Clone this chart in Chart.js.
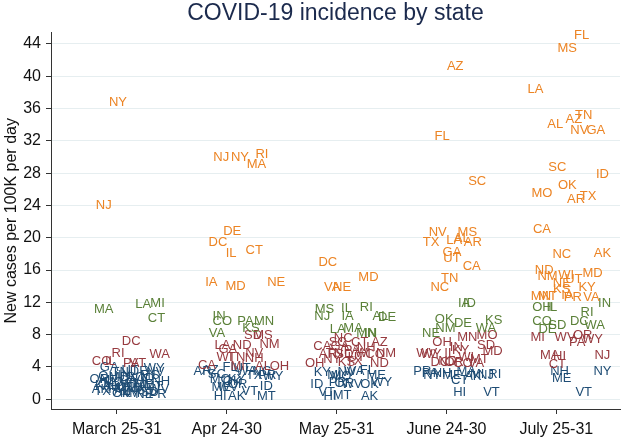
<!DOCTYPE html>
<html>
<head>
<meta charset="utf-8">
<title>COVID-19 incidence by state</title>
<script src="https://cdn.jsdelivr.net/npm/chart.js@4.4.1/dist/chart.umd.min.js"></script>
<style>
  html, body { margin: 0; padding: 0; background: #fff; }
</style>
</head>
<body>
<canvas id="chart" width="622" height="439"></canvas>
<script>
// Week labels on the x axis (one column of states per week)
const periods = ['March 25-31', 'Apr 24-30', 'May 25-31', 'June 24-30', 'July 25-31'];
const yTicks = [0, 4, 8, 12, 16, 20, 24, 28, 32, 36, 40, 44];

// Colour bands: <4 blue, 4-8 red, 8-12 green, >=12 orange
const cutoffs = [4, 8, 12];
const bandColors = ['#1f4d75', '#973a3f', '#5a8038', '#ec8424'];

// March 25-31 (x = jittered column position)
const marStates = ['NY','NJ','MA','LA','MI','CT','DC','RI','CO','IL','PA','VT','WA',
  'AL','AK','AZ','AR','CA','DE','FL','GA','HI','ID','IN','IA','KS','KY','ME','MD','MN','MS','MO','MT',
  'NE','NV','NH','NM','NC','ND','OH','OK','OR','SC','SD','TN','TX','UT','VA','WV','WI','WY','PR'];
const marX = [1.01,0.88,0.88,1.24,1.37,1.36,1.13,1.01,0.86,0.94,1.13,1.19,1.39,
  0.90,0.85,1.05,0.95,1.10,1.20,1.15,0.93,0.98,1.28,1.07,1.22,1.18,0.88,1.25,1.02,1.08,1.30,0.97,1.33,
  1.25,1.35,1.40,1.12,1.00,1.15,0.92,1.04,0.84,1.17,1.30,1.03,0.87,1.12,1.21,1.38,1.10,1.34,1.37];
const marCases = [36.7,24.0,11.1,11.7,11.9,10.0,7.2,5.7,4.7,4.7,4.5,4.5,5.5,
  2.3,1.2,1.0,1.6,2.4,3.4,2.0,3.9,1.2,2.6,2.9,1.5,1.1,1.7,1.9,2.7,1.4,2.9,2.1,1.6,
  0.6,3.3,2.2,0.7,1.5,1.3,2.8,0.7,2.5,2.7,0.9,3.3,1.0,3.6,2.3,1.2,1.9,3.8,0.6];

// Apr 24-30
const aprStates = ['NJ','NY','RI','MA','DE','DC','IL','CT','IA','MD','NE',
  'IN','CO','PA','MN','VA','KS',
  'MS','SD','LA','ND','NM','GA','WI','TN','NV','NH','CA','AL','OH','MI',
  'AR','AZ','SC','MO','OK','ME','KY','FL','TX','PR','WA','UT','NC','WV','OR','WY','VT','ID','HI','AK','MT'];
const aprX = [1.95,2.12,2.32,2.27,2.05,1.92,2.04,2.25,1.86,2.08,2.45,
  1.93,1.96,2.17,2.34,1.91,2.22,
  2.33,2.24,1.96,2.14,2.39,2.01,1.98,2.09,2.25,2.25,1.82,2.33,2.48,2.10,
  1.78,1.85,1.91,1.94,2.05,1.95,2.09,2.03,2.25,2.37,2.18,2.14,2.32,2.01,2.10,2.42,2.21,2.36,1.94,2.09,2.36];
const aprCases = [29.9,29.9,30.3,29.1,20.8,19.4,18.0,18.4,14.5,14.0,14.5,
  10.2,9.6,9.7,9.7,8.1,8.8,
  7.9,7.9,6.7,6.7,6.8,6.2,5.2,5.2,5.7,5.1,4.2,4.1,4.1,4.1,
  3.4,3.6,3.1,2.5,2.2,1.5,2.5,3.9,3.0,3.0,3.4,3.8,3.4,1.5,1.8,2.8,1.0,1.6,0.3,0.3,0.3];

// May 25-31
const mayStates = ['DC','VA','NE','MD',
  'MS','NJ','IL','IA','RI','AL','DE','LA','MA','MN','IN',
  'SC','GA','CT','AZ','NC','CA','AR','TN','PA','CO','NM','OH','TX','ND','SD','NH','UT','WI','NY','KS',
  'KY','MI','MO','NV','WA','FL','ME','WY','OK','OR','WV','ID','VT','HI','MT','AK','PR'];
const mayX = [2.92,2.96,3.05,3.29,
  2.89,2.87,3.09,3.10,3.27,3.40,3.46,3.01,3.15,3.27,3.31,
  3.01,3.03,3.21,3.39,3.06,2.87,2.92,2.98,3.14,3.35,3.45,2.80,3.16,3.39,3.07,3.27,3.18,3.24,2.96,3.09,
  2.87,2.98,3.04,3.09,3.16,3.28,3.36,3.41,3.30,3.07,3.14,2.82,2.91,2.94,3.05,3.30,3.01];
const mayCases = [16.9,13.9,13.9,15.1,
  11.1,10.2,11.3,10.2,11.4,10.3,10.1,8.6,8.8,8.2,8.2,
  7.0,6.6,7.0,7.0,7.5,6.5,5.5,5.7,6.1,5.5,5.7,4.4,4.7,4.5,5.5,6.4,5.2,5.7,4.9,4.6,
  3.3,3.0,2.8,3.3,3.4,3.6,3.0,2.1,1.8,2.0,1.9,1.8,0.8,0.3,0.5,0.4,2.1];

// June 24-30
const junStates = ['AZ','FL','SC','NV','TX','MS','LA','AR','AL','GA','UT','CA','TN','NC',
  'IA','ID','OK','NM','DE','KS','WA','NE',
  'MO','MN','OH','SD','IN','KY','MD','WV','WY','IL','WI','MT','DC','ND','OR','CO','VA',
  'PR','PA','NY','NH','ME','CT','MA','MI','NJ','RI','AK','HI','VT'];
const junX = [4.08,3.96,4.28,3.92,3.86,4.19,4.07,4.24,4.14,4.05,4.05,4.23,4.03,3.94,
  4.16,4.21,3.98,3.99,4.15,4.43,4.36,3.86,
  4.37,4.19,3.96,4.36,4.09,4.13,4.42,3.82,3.86,4.03,4.18,4.30,3.94,4.01,4.07,4.15,4.27,
  3.78,3.85,3.87,3.96,4.05,4.12,4.18,4.28,4.36,4.44,4.24,4.12,4.41];
const junCases = [41.2,32.5,27.0,20.6,19.4,20.6,19.7,19.4,19.9,18.2,17.5,16.4,15.0,13.9,
  11.9,11.9,9.9,8.8,9.4,9.8,8.8,8.1,
  7.9,7.6,7.0,6.7,6.4,6.1,5.9,5.7,5.6,5.7,5.2,4.9,4.6,4.7,4.6,4.5,4.5,
  3.4,3.2,2.9,3.2,2.9,2.4,3.4,3.1,3.0,3.1,2.8,0.9,0.9];

// July 25-31
const julStates = ['FL','MS','LA','TN','AZ','AL','NV','GA','SC','ID','OK','MO','AR','TX','CA','NC','AK',
  'ND','NM','WI','MD','NE','UT','KY','KS','MN','MT','IA','PR','VA',
  'OH','IL','IN','RI','CO','SD','DE','DC','WA',
  'MI','WV','OR','PA','WY','MA','HI','CT','NJ',
  'NY','NH','ME','VT'];
const julX = [5.23,5.10,4.81,5.25,5.16,4.99,5.21,5.36,5.01,5.42,5.10,4.87,5.18,5.29,4.87,5.05,5.42,
  4.89,4.92,5.09,5.33,5.05,5.16,5.28,5.05,4.86,4.92,5.10,5.15,5.32,
  4.87,4.96,5.44,5.28,4.87,5.01,4.92,5.21,5.35,
  4.83,5.08,5.24,5.19,5.33,4.94,5.03,5.01,5.42,
  5.42,5.03,5.05,5.25];
const julCases = [45.1,43.4,38.4,35.1,34.7,34.0,33.3,33.3,28.7,27.9,26.5,25.5,24.8,25.1,21.0,17.9,18.1,
  16.0,15.2,15.3,15.6,14.4,14.8,13.8,13.6,12.7,12.7,12.9,12.6,12.6,
  11.4,11.4,11.9,10.7,9.7,9.1,8.6,9.6,9.2,
  7.7,7.7,7.9,7.1,7.4,5.4,5.3,4.3,5.4,
  3.4,3.4,2.6,0.8];

const weeks = [
  [marStates, marX, marCases],
  [aprStates, aprX, aprCases],
  [mayStates, mayX, mayCases],
  [junStates, junX, junCases],
  [julStates, julX, julCases]
];

// sort each state into its colour band
const bands = [[], [], [], []];
weeks.forEach(([states, xs, cases]) => {
    states.forEach((s, i) => {
        let b = 0;
        while (b < cutoffs.length && cases[i] >= cutoffs[b]) b++;
        bands[b].push({ x: xs[i], y: cases[i], s: s });
    });
});

const FONT = '"Liberation Sans", Arial, Helvetica, sans-serif';

// draws the state abbreviation at each (invisible) point
const stateLabels = {
    id: 'stateLabels',
    afterDatasetsDraw(chart) {
        const ctx = chart.ctx;
        ctx.save();
        ctx.font = '13px ' + FONT;
        ctx.textAlign = 'center';
        ctx.textBaseline = 'middle';
        chart.data.datasets.forEach((ds, di) => {
            const meta = chart.getDatasetMeta(di);
            ctx.fillStyle = ds.textColor;
            meta.data.forEach((pt, i) => {
                ctx.fillText(ds.data[i].s, pt.x, pt.y);
            });
        });
        ctx.restore();
    }
};

new Chart(document.getElementById('chart').getContext('2d'), {
    type: 'scatter',
    data: {
        datasets: bands.map((pts, b) => ({
            data: pts,
            textColor: bandColors[b],
            pointRadius: 0,
            pointHoverRadius: 0
        }))
    },
    options: {
        responsive: false,
        animation: false,
        events: [],
        layout: { padding: { top: 0, right: 2, bottom: 0, left: 0 } },
        plugins: {
            legend: { display: false },
            tooltip: { enabled: false },
            title: {
                display: true,
                text: 'COVID-19 incidence by state',
                color: '#1b2a4d',
                fullSize: false,
                font: { family: FONT, size: 23, weight: 'normal' },
                padding: { top: 0, bottom: 5 }
            }
        },
        scales: {
            x: {
                type: 'linear',
                min: 0.4,
                max: 5.58,
                afterBuildTicks: s => { s.ticks = periods.map((p, i) => ({ value: i + 1 })); },
                afterFit: s => { s.height = 30; },
                ticks: {
                    color: '#111',
                    padding: 6,
                    font: { family: FONT, size: 16 },
                    callback: v => periods[v - 1]
                },
                grid: { drawOnChartArea: false, drawTicks: true, tickLength: 5, tickColor: '#333' },
                border: { color: '#333', width: 1 }
            },
            y: {
                min: -1.2,
                max: 45.4,
                afterBuildTicks: s => { s.ticks = yTicks.map(v => ({ value: v })); },
                afterFit: s => { s.width = 51; },
                ticks: {
                    color: '#111',
                    padding: 5,
                    font: { family: FONT, size: 16 }
                },
                grid: { color: '#e6eef0', lineWidth: 1, tickLength: 5, tickColor: '#333' },
                border: { color: '#333', width: 1 },
                title: {
                    display: true,
                    text: 'New cases per 100K per day',
                    color: '#111',
                    font: { family: FONT, size: 16 },
                    padding: { top: 2, bottom: 0 }
                }
            }
        }
    },
    plugins: [stateLabels]
});
</script>
</body>
</html>
